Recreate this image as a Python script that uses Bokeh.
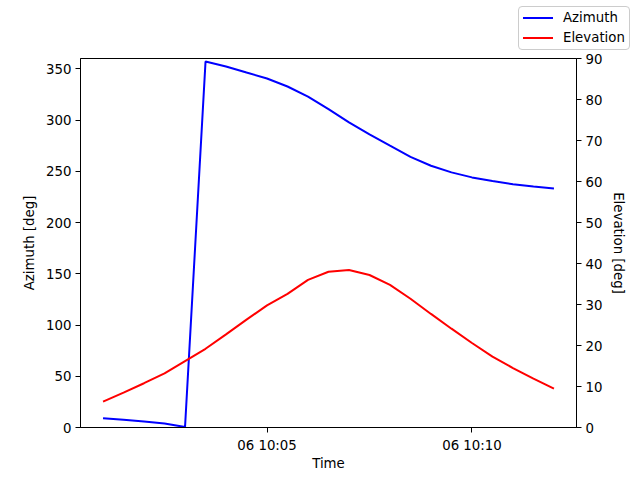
import pandas as pd
from bokeh.plotting import figure
from bokeh.layouts import column
from bokeh.models import (Range1d, LinearAxis, FixedTicker, DatetimeTickFormatter,
                          ColumnDataSource, Div)
from bokeh.embed import file_html
from bokeh.resources import INLINE

# ---- data ----
start_time = "2024-01-06 10:01:00"
n_points = 23
step = "30s"
azimuth = [9.1, 7.5, 5.8, 3.9, 0.5, 357.0, 352.2, 346.3, 340.5, 332.7, 322.9, 310.6,
           297.6, 285.9, 274.9, 264.1, 255.4, 248.9, 244.0, 240.4, 237.4, 235.1, 233.1]
elevation = [6.3, 8.5, 10.8, 13.2, 16.2, 19.2, 22.7, 26.3, 29.8, 32.6, 36.0, 38.0,
             38.4, 37.2, 34.8, 31.4, 27.7, 24.1, 20.6, 17.3, 14.5, 11.9, 9.5]
series_names = ["Azimuth", "Elevation"]
series_colors = ["blue", "red"]
x_ticks = ["2024-01-06 10:05:00", "2024-01-06 10:10:00"]
az_ticks = [0, 50, 100, 150, 200, 250, 300, 350]
el_ticks = [0, 10, 20, 30, 40, 50, 60, 70, 80, 90]

times = pd.date_range(start_time, periods=n_points, freq=step)
src = ColumnDataSource(dict(t=times, az=azimuth, el=elevation))

t0 = times[0].value / 1e6
t1 = times[-1].value / 1e6
pad = (t1 - t0) * 0.05

FONT = "DejaVu Sans"
FS = "13.33px"

# ---- main chart ----
p = figure(width=640, height=428, output_backend="svg", toolbar_location=None,
           x_axis_type="datetime",
           x_range=Range1d(t0 - pad, t1 + pad), y_range=Range1d(0, 360),
           min_border_left=80, min_border_right=64, min_border_top=6, min_border_bottom=53)
p.extra_y_ranges = {"el": Range1d(0, 90)}
p.grid.visible = False
p.outline_line_color = "black"
p.outline_line_width = 1
p.background_fill_color = "white"
p.border_fill_color = "white"

p.line("t", "az", source=src, line_color=series_colors[0], line_width=2)
p.line("t", "el", source=src, line_color=series_colors[1], line_width=2, y_range_name="el")

right = LinearAxis(y_range_name="el")
p.add_layout(right, "right")

p.xaxis.ticker = FixedTicker(ticks=[pd.Timestamp(s).value / 1e6 for s in x_ticks])
p.xaxis.formatter = DatetimeTickFormatter(minutes="%d %H:%M", hours="%d %H:%M",
                                          minsec="%d %H:%M", seconds="%d %H:%M")
p.yaxis[0].ticker = FixedTicker(ticks=az_ticks)
right.ticker = FixedTicker(ticks=el_ticks)

p.xaxis.axis_label = "Time"
p.yaxis[0].axis_label = "Azimuth [deg]"
right.axis_label = "Elevation [deg]"

for ax in [p.xaxis[0], p.yaxis[0], right]:
    ax.axis_label_text_font = FONT
    ax.axis_label_text_font_size = FS
    ax.axis_label_text_font_style = "normal"
    ax.axis_label_text_color = "black"
    ax.major_label_text_font = FONT
    ax.major_label_text_font_size = FS
    ax.major_label_text_color = "black"
    ax.axis_line_color = "black"
    ax.major_tick_line_color = "black"
    ax.major_tick_out = 5
    ax.major_tick_in = 0
    ax.minor_tick_line_color = None
    ax.major_label_standoff = 4
    ax.axis_label_standoff = 6

p.xaxis[0].major_label_standoff = 5
p.xaxis[0].axis_label_standoff = 0

# ---- figure-level legend (upper right, above the axes) ----
rows_html = ""
for i, (name, col) in enumerate(zip(series_names, series_colors)):
    cy = 11 + 20 * i
    rows_html += (
        f'<div style="position:absolute;left:4px;top:{cy - 1}px;width:30px;height:2px;'
        f'background:{col};"></div>'
        f'<div style="position:absolute;left:44px;top:{cy - 9}px;line-height:18px;'
        f'font-family:\'DejaVu Sans\';font-size:{FS};color:black;white-space:nowrap;">{name}</div>'
    )
legend_html = (
    '<div style="position:relative;width:640px;height:52px;margin:0;padding:0;">'
    '<div style="position:absolute;left:518px;top:6px;width:112px;height:44px;'
    'border:1px solid #cccccc;border-radius:4px;background:rgba(255,255,255,0.8);">'
    + rows_html + '</div></div>'
)
lg = Div(text=legend_html, width=640, height=52, margin=0)

layout = column(lg, p, spacing=0)
open("out.html", "w").write(file_html(layout, INLINE))
